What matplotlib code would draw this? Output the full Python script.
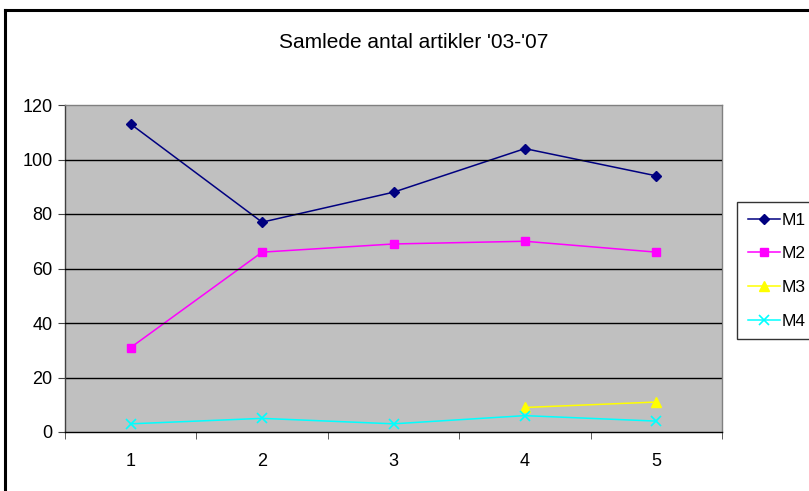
import matplotlib
matplotlib.use("Agg")
import matplotlib.pyplot as plt
from matplotlib.lines import Line2D

plt.rcParams['font.family'] = ['Liberation Sans', 'DejaVu Sans']

categories = ["1", "2", "3", "4", "5"]
m1 = [113, 77, 88, 104, 94]
m2 = [31, 66, 69, 70, 66]
m3 = [None, None, None, 9, 11]
m4 = [3, 5, 3, 6, 4]
yticks = [0, 20, 40, 60, 80, 100, 120]
title = "Samlede antal artikler '03-'07"

W, H = 809, 491
fig = plt.figure(figsize=(W / 100, H / 100), dpi=100)

def fx(px):
    return px / W

def fy(py):
    return 1 - py / H

# outer frame
fig.add_artist(Line2D([fx(5), 1.0], [fy(10), fy(10)], color='black', lw=2.2))
fig.add_artist(Line2D([fx(5), fx(5)], [fy(10), 0.0], color='black', lw=2.2))

left, right, top, bottom = 65, 722, 105, 432
ax = fig.add_axes([fx(left), fy(bottom), fx(right - left), (bottom - top) / H])
ax.set_facecolor('#C0C0C0')

x = list(range(len(categories)))
ax.plot(x, m1, color='#000080', marker='D', markersize=5.5, lw=1.1, label='M1')
ax.plot(x, m2, color='#FF00FF', marker='s', markersize=5.5, lw=1.1, label='M2')
xs3 = [i for i, v in zip(x, m3) if v is not None]
ys3 = [v for v in m3 if v is not None]
ax.plot(xs3, ys3, color='#FFFF00', marker='^', markersize=6.5, lw=1.1, label='M3')
ax.plot(x, m4, color='#00FFFF', marker='x', markersize=6.5, mew=1.2, lw=1.1, label='M4')

fs = 13
ax.set_xlim(-0.5, len(categories) - 0.5)
ax.set_ylim(0, 120)
ax.set_yticks(yticks)
ax.set_yticklabels([str(t) for t in yticks], fontsize=fs)
ax.set_xticks(x)
ax.set_xticklabels(categories, fontsize=fs)
ax.set_xticks([i - 0.5 for i in range(len(categories) + 1)], minor=True)
ax.tick_params(axis='x', which='major', length=0, pad=15)
ax.tick_params(axis='x', which='minor', length=5, color='#404040', direction='out')
ax.tick_params(axis='y', which='major', length=5, color='#404040', direction='out', pad=4)

for t in yticks[1:-1]:
    ax.axhline(t, color='black', lw=1.0, zorder=1)
for line in ax.lines[-4:]:
    line.set_zorder(3)

ax.spines['top'].set_color('#808080')
ax.spines['right'].set_color('#808080')
ax.spines['left'].set_color('#404040')
ax.spines['bottom'].set_color('black')
for s in ax.spines.values():
    s.set_linewidth(1.0)

fig.text(fx(414), fy(43), title, ha='center', va='center', fontsize=15)

lfs = 12.5
leg = fig.legend(handles=ax.lines[:4], loc='upper left',
                 bbox_to_anchor=(fx(737), fy(202)), frameon=True, fancybox=False,
                 edgecolor='black', fontsize=lfs, handlelength=1.85,
                 handletextpad=0.12, labelspacing=1.06, borderpad=0.62,
                 borderaxespad=0)
leg.get_frame().set_linewidth(1.0)

fig.savefig('out.png', dpi=100, facecolor='white')
